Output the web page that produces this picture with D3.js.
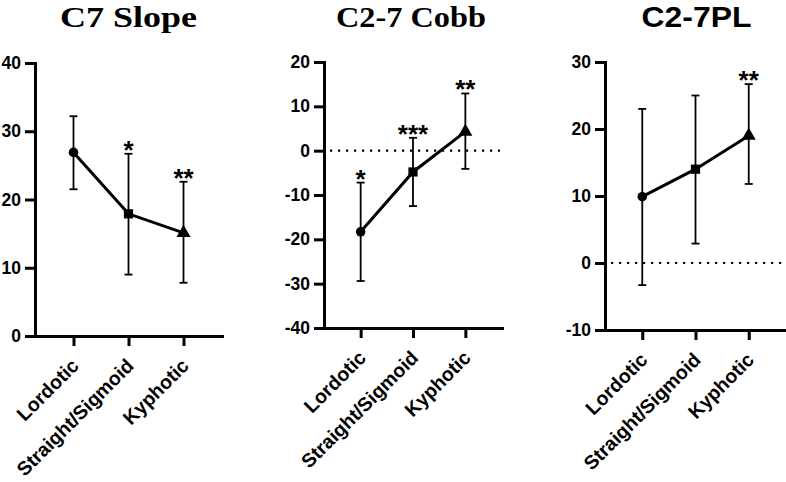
<!DOCTYPE html>
<html><head><meta charset="utf-8">
<script src="https://cdn.jsdelivr.net/npm/d3@7"></script>
<style>body{margin:0;background:#fff}</style>
</head><body><svg id="c" width="786" height="482"></svg>
<script>
const categories = ["Lordotic", "Straight/Sigmoid", "Kyphotic"];
const titles = ["C7 Slope", "C2-7 Cobb", "C2-7PL"];

const c7Mean = [26.9, 17.9, 15.1];
const c7Upper = [32.2, 26.7, 22.6];
const c7Lower = [21.5, 9.0, 7.8];
const c7Stars = ["", "*", "**"];
const c7Ticks = [0, 10, 20, 30, 40];

const cobbMean = [-18.3, -4.8, 4.3];
const cobbUpper = [-7.2, 2.9, 12.9];
const cobbLower = [-29.4, -12.5, -4.1];
const cobbStars = ["*", "***", "**"];
const cobbTicks = [-40, -30, -20, -10, 0, 10, 20];

const plMean = [9.9, 14.0, 19.0];
const plUpper = [23.0, 25.0, 26.7];
const plLower = [-3.3, 2.9, 11.8];
const plStars = ["", "", "**"];
const plTicks = [-10, 0, 10, 20, 30];

const serif = "'Liberation Serif', 'Times New Roman', serif";
const sans = "'Liberation Sans', Arial, sans-serif";

const panels = [
  {title: titles[0], tfont: serif, tx: 128.5, tw: 137, mean: c7Mean, up: c7Upper, lo: c7Lower, stars: c7Stars, ticks: c7Ticks, x0: 35, x1: 222, y0: 63, y1: 336, zero: false},
  {title: titles[1], tfont: serif, tx: 411, tw: 150, mean: cobbMean, up: cobbUpper, lo: cobbLower, stars: cobbStars, ticks: cobbTicks, x0: 324, x1: 502, y0: 62, y1: 328, zero: true},
  {title: titles[2], tfont: sans, tx: 696.5, tw: 110, mean: plMean, up: plUpper, lo: plLower, stars: plStars, ticks: plTicks, x0: 605, x1: 786, y0: 62, y1: 330, zero: true}
];

const symbols = [d3.symbolCircle, d3.symbolSquare, d3.symbolTriangle];
const symSizes = [72, 85, 85];
const svg = d3.select("#c");

panels.forEach(p => {
  const g = svg.append("g");
  const x = d3.scalePoint().domain(categories).range([p.x0, p.x1]).padding(0.7);
  const y = d3.scaleLinear().domain(d3.extent(p.ticks)).range([p.y1, p.y0]);

  // title
  g.append("text").attr("x", p.tx).attr("y", 27).attr("text-anchor", "middle")
    .attr("font-family", p.tfont).attr("font-weight", "bold").attr("font-size", 29)
    .attr("textLength", p.tw).attr("lengthAdjust", "spacingAndGlyphs")
    .text(p.title);

  // zero line
  if (p.zero) {
    g.append("line").attr("x1", p.x0 + 6).attr("x2", p.x1 - 2)
      .attr("y1", y(0)).attr("y2", y(0))
      .attr("stroke", "#000").attr("stroke-width", 2.2).attr("stroke-dasharray", "2.2,5.8");
  }

  // y axis
  const ya = g.append("g").attr("transform", `translate(${p.x0},0)`)
    .call(d3.axisLeft(y).tickValues(p.ticks).tickFormat(d => String(d))
      .tickSize(10).tickSizeOuter(0).tickPadding(4));
  ya.select(".domain").attr("stroke-width", 3).attr("stroke-linecap", "square");
  ya.selectAll(".tick line").attr("stroke-width", 3);
  ya.selectAll(".tick text").attr("font-family", sans).attr("font-weight", "bold")
    .attr("font-size", 17.5).attr("fill", "#000");

  // x axis
  const xa = g.append("g").attr("transform", `translate(0,${p.y1})`)
    .call(d3.axisBottom(x).tickSize(10).tickSizeOuter(0));
  xa.select(".domain").attr("stroke-width", 3).attr("stroke-linecap", "square");
  xa.selectAll(".tick line").attr("stroke-width", 3);
  xa.selectAll(".tick text").attr("font-family", sans).attr("font-weight", "bold")
    .attr("font-size", 19.5).attr("fill", "#000")
    .attr("text-anchor", "end").attr("x", 0).attr("y", 0).attr("dy", null)
    .attr("transform", "translate(6,31) rotate(-45)");

  const data = categories.map((c, i) => ({c, i, m: p.mean[i], u: p.up[i], l: p.lo[i], s: p.stars[i]}));

  // error bars
  const eb = g.append("g").attr("stroke", "#000").attr("stroke-width", 1.8);
  data.forEach(d => {
    const cx = x(d.c);
    eb.append("line").attr("x1", cx).attr("x2", cx).attr("y1", y(d.u)).attr("y2", y(d.l));
    eb.append("line").attr("x1", cx - 4).attr("x2", cx + 4).attr("y1", y(d.u)).attr("y2", y(d.u));
    eb.append("line").attr("x1", cx - 4).attr("x2", cx + 4).attr("y1", y(d.l)).attr("y2", y(d.l));
  });

  // mean line
  g.append("path").datum(data)
    .attr("d", d3.line().x(d => x(d.c)).y(d => y(d.m)))
    .attr("fill", "none").attr("stroke", "#000").attr("stroke-width", 3);

  // markers
  g.selectAll("path.sym").data(data).enter().append("path").attr("class", "sym")
    .attr("transform", d => `translate(${x(d.c)},${y(d.m)})`)
    .attr("d", d => d3.symbol().type(symbols[d.i]).size(symSizes[d.i])())
    .attr("fill", "#000");

  // stars
  g.selectAll("text.star").data(data.filter(d => d.s)).enter().append("text").attr("class", "star")
    .attr("x", d => x(d.c)).attr("y", d => y(d.u) + 5).attr("text-anchor", "middle")
    .attr("font-family", sans).attr("font-weight", "bold").attr("font-size", 26)
    .text(d => d.s);
});
</script>
</body></html>
